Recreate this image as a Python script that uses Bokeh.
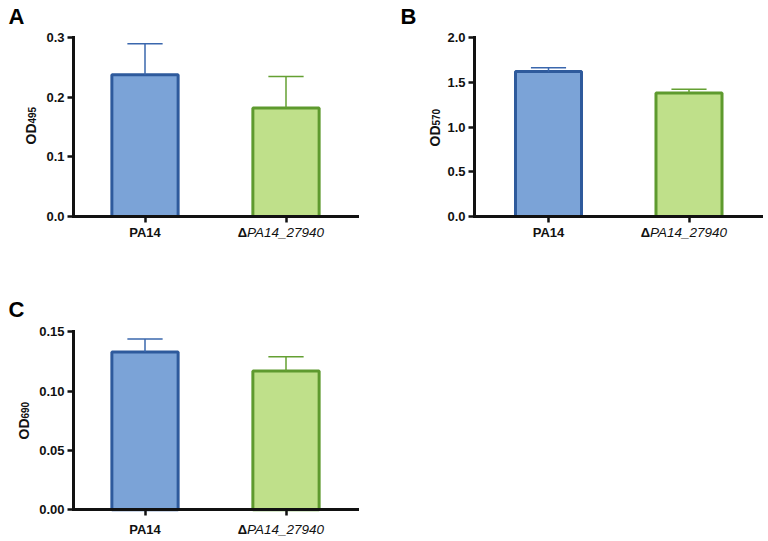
import math
from bokeh.plotting import figure
from bokeh.models import Range1d, FixedTicker, Label, NumeralTickFormatter
from bokeh.layouts import column, row
from bokeh.embed import file_html
from bokeh.resources import INLINE

# ---- data ----
categories = ["PA14", "ΔPA14_27940"]
od495_mean = [0.238, 0.182]
od495_sd = [0.052, 0.053]
od570_mean = [1.623, 1.382]
od570_sd = [0.041, 0.043]
od690_mean = [0.133, 0.117]
od690_sd = [0.011, 0.012]
yticks_495 = [0.0, 0.1, 0.2, 0.3]
yticks_570 = [0.0, 0.5, 1.0, 1.5, 2.0]
yticks_690 = [0.0, 0.05, 0.10, 0.15]

FONT = "Liberation Sans"
FILLS = ["#7ba3d7", "#bfe08a"]
LINES = ["#2e5a9c", "#5e9a2e"]
ERRS = ["#3a67ad", "#64a032"]
INK = "#111111"


def make_panel(letter, sub, means, sds, yticks, fmt, W, H, geo, ylab, letter_pos, xlab_y):
    # geo: (axis_x, zero_y, top_y, center1, center2, xaxis_end) in local pixels (from top-left)
    ax_x, y0, ytop, c1, c2, xend = geo
    ppx = c2 - c1
    x_start = 1 - c1 / ppx
    x_end = x_start + W / ppx
    ppy = (y0 - ytop) / yticks[-1]
    y_start = -(H - y0) / ppy
    y_end = y0 / ppy
    x_of = lambda px: x_start + px / ppx

    p = figure(width=W, height=H, output_backend="svg", toolbar_location=None,
               x_range=Range1d(x_start, x_end), y_range=Range1d(y_start, y_end),
               min_border_left=0, min_border_right=0, min_border_top=0, min_border_bottom=0)
    p.outline_line_color = None
    p.grid.visible = False
    p.background_fill_color = "white"
    p.border_fill_color = "white"

    xs = [i + 1 for i in range(len(categories))]
    tops = [m + s for m, s in zip(means, sds)]
    p.vbar(x=xs, top=means, bottom=0, width=0.47, fill_color=FILLS, line_color=LINES, line_width=3)
    p.segment(x0=xs, y0=means, x1=xs, y1=tops, line_color=ERRS, line_width=1.5)
    cap = 0.125
    p.segment(x0=[x - cap for x in xs], y0=tops, x1=[x + cap for x in xs], y1=tops,
              line_color=ERRS, line_width=1.5)

    for ax in (p.xaxis[0], p.yaxis[0]):
        ax.axis_line_width = 3
        ax.axis_line_color = INK
        ax.axis_line_cap = "square"
        ax.major_tick_line_width = 2.5
        ax.major_tick_line_color = INK
        ax.major_tick_out = 6
        ax.major_tick_in = 0
        ax.minor_tick_line_color = None
        ax.major_label_text_font = FONT
        ax.major_label_text_font_style = "bold"
        ax.major_label_text_font_size = "13px"
        ax.major_label_text_color = INK
    p.yaxis.ticker = FixedTicker(ticks=yticks)
    p.yaxis.formatter = NumeralTickFormatter(format=fmt)
    p.yaxis.major_label_standoff = 3
    p.yaxis.fixed_location = x_of(ax_x)
    p.yaxis.bounds = (yticks[0], yticks[-1])
    p.xaxis.ticker = FixedTicker(ticks=xs)
    p.xaxis.major_label_overrides = {x: "" for x in xs}
    p.xaxis.fixed_location = 0
    p.xaxis.bounds = (x_of(ax_x), x_of(xend))

    # x category labels
    p.add_layout(Label(x=xs[0], y=xlab_y, x_units="data", y_units="screen", text=categories[0],
                       text_font=FONT, text_font_style="bold", text_font_size="13px",
                       text_align="center", text_baseline="alphabetic", text_color=INK))
    p.add_layout(Label(x=xs[1], y=xlab_y, x_units="data", y_units="screen", x_offset=-39,
                       text=categories[1][0], text_font=FONT, text_font_style="bold",
                       text_font_size="13px", text_align="right", text_baseline="alphabetic",
                       text_color=INK))
    p.add_layout(Label(x=xs[1], y=xlab_y, x_units="data", y_units="screen", x_offset=-39,
                       text=categories[1][1:], text_font=FONT, text_font_style="italic",
                       text_font_size="13.5px", text_align="left", text_baseline="alphabetic",
                       text_color=INK))

    # y axis label with subscript
    lx, ly = ylab
    p.add_layout(Label(x=lx, y=ly, x_units="screen", y_units="screen", text="OD", angle=math.pi / 2,
                       text_font=FONT, text_font_style="bold", text_font_size="14px",
                       text_align="left", text_baseline="alphabetic", text_color=INK))
    p.add_layout(Label(x=lx + 1.5, y=ly + 21, x_units="screen", y_units="screen", text=sub,
                       angle=math.pi / 2, text_font=FONT, text_font_style="bold",
                       text_font_size="10px", text_align="left", text_baseline="alphabetic",
                       text_color=INK))

    # panel letter
    p.add_layout(Label(x=letter_pos[0], y=letter_pos[1], x_units="screen", y_units="screen",
                       text=letter, text_font=FONT, text_font_style="bold", text_font_size="22px",
                       text_align="left", text_baseline="alphabetic", text_color="#000000"))
    return p


pA = make_panel("A", "495", od495_mean, od495_sd, yticks_495, "0.0", 384, 270,
                (73, 216, 37.3, 144.5, 285.5, 357), (30, 126), (8, 254), 38)
pB = make_panel("B", "570", od570_mean, od570_sd, yticks_570, "0.0", 384, 270,
                (90, 216, 37.3, 164, 304.5, 377), (50, 124), (16, 254), 38)
pC = make_panel("C", "690", od690_mean, od690_sd, yticks_690, "0.00", 384, 271,
                (73, 239.3, 61.3, 144.5, 285.5, 357), (23, 102), (8, 232), 12)

layout = column(row(pA, pB), pC)
open("out.html", "w").write(file_html(layout, INLINE))
